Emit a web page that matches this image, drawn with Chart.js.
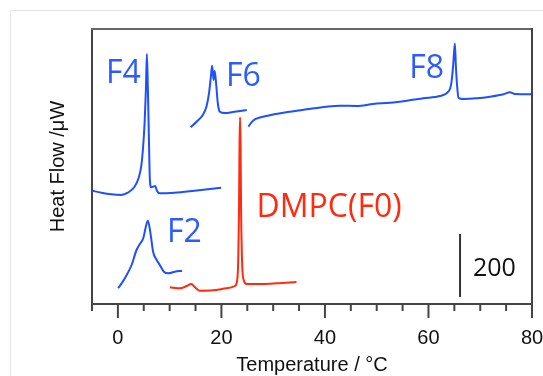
<!DOCTYPE html>
<html>
<head>
<meta charset="utf-8">
<script src="https://cdn.jsdelivr.net/npm/chart.js@4.4.1/dist/chart.umd.min.js"></script>
<style>
  html, body { margin: 0; padding: 0; background: #ffffff; }
  #wrap { position: relative; width: 543px; height: 376px; overflow: hidden; }
  #frame { position: absolute; left: 10px; top: 10px; width: 700px; height: 700px; border: 1px solid #e4e4e4; box-sizing: border-box; }
  canvas { position: absolute; left: 0; top: 0; }
</style>
</head>
<body>
<div id="wrap">
  <div id="frame"></div>
  <canvas id="c" width="543" height="376"></canvas>
</div>
<script>
// ---- Data (temperature in °C, heat flow in arbitrary offset units; 63 units = 200 µW) ----
const f4T = [-5.0, -3.2, -1.3, 0.64, 1.93, 3.22, 3.99, 4.50, 4.83, 5.16, 5.41, 5.60, 5.80, 6.00, 6.18, 6.44, 6.83, 7.21, 7.54, 8.06, 10.96, 14.8, 19.95];
const f4H = [113.3, 111.3, 109.7, 109, 111.3, 117.3, 125.7, 137.3, 154, 180.7, 214, 250, 214, 164, 124, 116.7, 117.3, 118, 113.3, 110.7, 111.3, 113.3, 116.3];

const f6T = [14.05, 15.2, 16.4, 17.1, 17.6, 18.0, 18.2, 18.5, 18.7, 19.0, 19.3, 19.7, 20.7, 22.2, 24.9];
const f6H = [176.7, 182.3, 189, 197.3, 210.7, 229, 238.3, 224, 233, 219, 201, 192.3, 191, 192, 194];

const f8T = [25.2, 26.1, 28.7, 33.2, 36.5, 40.3, 42.9, 46.1, 49.3, 52.6, 55.8, 59.0, 62.2, 63.5, 64.2, 64.5, 64.8, 65.1, 65.3, 65.6, 65.8, 66.7, 69.3, 71.9, 74.5, 75.7, 76.7, 79.9];
const f8H = [177.3, 183.3, 188, 192.3, 194.7, 197.3, 198.3, 198, 200, 201.3, 203.3, 205.7, 208, 210.7, 215.7, 224, 240.7, 260.5, 237.3, 214, 206.3, 205, 205.7, 207.3, 209.7, 211.7, 210, 209.7];

const f2T = [0.06, 1.35, 2.65, 3.6, 4.25, 4.9, 5.4, 5.8, 6.3, 6.8, 7.5, 8.1, 8.9, 9.7, 11.0, 12.4];
const f2H = [15.7, 25.7, 39, 54, 60, 65.7, 77.3, 83.3, 70.7, 52.3, 44, 39, 32.3, 30.7, 32.3, 33.3];

const f0T = [10.05, 12.0, 13.3, 14.2, 14.9, 15.8, 18.4, 21.0, 22.6, 23.05, 23.25, 23.4, 23.5, 23.6, 23.7, 23.8, 24.0, 24.3, 24.9, 27.4, 30.7, 34.5];
const f0H = [16.7, 15.7, 18, 20, 16.7, 13.3, 13.7, 15.7, 18, 24, 44, 94, 160.7, 186.7, 160.7, 94, 40.7, 24, 20, 20, 20.7, 22];

const scaleBarT = [66.1, 66.1];
const scaleBarH = [7, 70];

const xTickValues = [0, 20, 40, 60, 80];

// curve labels: text, temperature, heat-flow level (baseline, left aligned)
const labelText = ['F4', 'F6', 'F8', 'F2', 'DMPC(F0)', '200'];
const labelT    = [-2.3, 20.9, 56.3, 9.5, 26.8, 68.6];
const labelH    = [221, 218, 226, 62, 87, 28];

// ---- helpers ----
const pts = (t, h) => t.map((v, i) => ({ x: v, y: h[i] }));
const BLUE = '#1f4fff';
const RED = '#ff2a10';
const labelColor = ['#2c5cff', '#2c5cff', '#2c5cff', '#2c5cff', '#ff2a10', '#111111'];
const labelFont = ['32px "Open Sans"', '32px "Open Sans"', '32px "Open Sans"', '32px "Open Sans"', '32px "Open Sans"', '25px "Open Sans"'];

const line = (label, data, color) => ({
  label, data, borderColor: color, borderWidth: 2, pointRadius: 0,
  cubicInterpolationMode: 'monotone', fill: false
});

const overlay = {
  id: 'overlay',
  afterDraw(chart) {
    const { ctx, chartArea: a, scales: { x, y } } = chart;
    ctx.save();
    // top and right frame
    ctx.lineWidth = 2;
    ctx.strokeStyle = '#666666';
    ctx.beginPath(); ctx.moveTo(a.left - 1, a.top); ctx.lineTo(a.right, a.top); ctx.stroke();
    ctx.strokeStyle = '#444444';
    ctx.beginPath(); ctx.moveTo(a.right, a.top - 1); ctx.lineTo(a.right, a.bottom); ctx.stroke();
    // x ticks (major every 20, minor every 5)
    ctx.strokeStyle = '#444444';
    x.ticks.forEach(t => {
      const px = x.getPixelForValue(t.value);
      const major = xTickValues.includes(t.value);
      ctx.beginPath(); ctx.moveTo(px, a.bottom); ctx.lineTo(px, a.bottom + (major ? 14 : 7)); ctx.stroke();
    });
    // labels
    ctx.textAlign = 'left';
    ctx.textBaseline = 'alphabetic';
    labelText.forEach((txt, i) => {
      ctx.font = labelFont[i];
      ctx.fillStyle = labelColor[i];
      ctx.fillText(txt, x.getPixelForValue(labelT[i]), y.getPixelForValue(labelH[i]));
    });
    ctx.restore();
  }
};

new Chart(document.getElementById('c'), {
  type: 'line',
  data: {
    datasets: [
      line('F4', pts(f4T, f4H), BLUE),
      line('F6', pts(f6T, f6H), BLUE),
      line('F8', pts(f8T, f8H), BLUE),
      line('F2', pts(f2T, f2H), BLUE),
      line('DMPC(F0)', pts(f0T, f0H), RED),
      { label: 'scale', data: pts(scaleBarT, scaleBarH), borderColor: '#333333', borderWidth: 2, pointRadius: 0, tension: 0 }
    ]
  },
  options: {
    responsive: false,
    animation: false,
    devicePixelRatio: 1,
    layout: { padding: { left: 0, top: 29, right: 11, bottom: 0 } },
    plugins: { legend: { display: false }, tooltip: { enabled: false } },
    scales: {
      x: {
        type: 'linear', min: -5, max: 80,
        afterFit: s => { s.height = 72; s.paddingRight = 0; s.paddingLeft = 0; },
        border: { display: true, color: '#444444', width: 2 },
        grid: { display: true, drawOnChartArea: false, drawTicks: true, tickLength: 14, tickColor: 'rgba(0,0,0,0)' },
        ticks: {
          stepSize: 5, autoSkip: false, maxRotation: 0, padding: 8,
          color: '#111111', font: { family: '"Liberation Sans", Arial', size: 20 },
          callback: v => (xTickValues.includes(v) ? String(v) : '')
        },
        title: {
          display: true, text: 'Temperature / °C', color: '#111111',
          font: { family: '"Liberation Sans", Arial', size: 20, lineHeight: 1.0 },
          padding: { top: 0, bottom: 1 }
        }
      },
      y: {
        type: 'linear', min: 0, max: 275,
        afterFit: s => { s.width = 92; },
        border: { display: true, color: '#444444', width: 2 },
        grid: { display: false },
        ticks: { display: false },
        title: {
          display: true, text: 'Heat Flow /μW', color: '#111111',
          font: { family: '"Liberation Sans", Arial', size: 20, lineHeight: 1.0 },
          padding: { top: 48, bottom: 0 }
        }
      }
    }
  },
  plugins: [overlay]
});
</script>
</body>
</html>
